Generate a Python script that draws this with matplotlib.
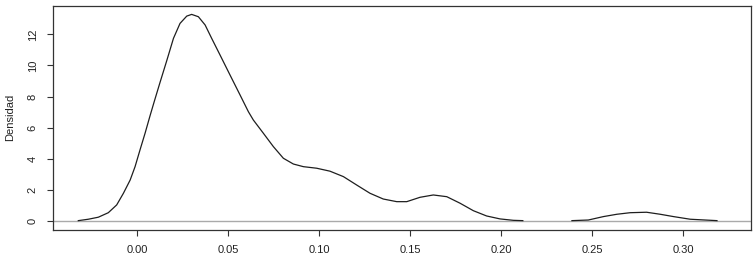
import numpy as np
import matplotlib
matplotlib.use("Agg")
import matplotlib.pyplot as plt

plt.rcParams['font.family'] = ['Liberation Sans', 'DejaVu Sans']

# Density curve, first segment
seg1_x = [-0.0323, -0.0268, -0.0213, -0.0158, -0.0112, -0.0075, -0.0038, -0.0011, 0.0016,
          0.0044, 0.0071, 0.0095, 0.0126, 0.0163, 0.0200, 0.0236, 0.0273, 0.0300, 0.0337,
          0.0374, 0.0410, 0.0456, 0.0511, 0.0566, 0.0612, 0.0639, 0.0694, 0.0749, 0.0804,
          0.0859, 0.0914, 0.0987, 0.1060, 0.1134, 0.1207, 0.1280, 0.1353, 0.1427, 0.1482,
          0.1555, 0.1628, 0.1702, 0.1775, 0.1848, 0.1921, 0.1995, 0.2068, 0.2120]
seg1_y = [0.02, 0.11, 0.24, 0.53, 1.03, 1.78, 2.63, 3.49, 4.56,
          5.64, 6.75, 7.70, 8.90, 10.30, 11.74, 12.70, 13.17, 13.28, 13.13,
          12.60, 11.74, 10.67, 9.38, 8.10, 7.02, 6.49, 5.64, 4.78, 4.03,
          3.66, 3.49, 3.39, 3.20, 2.85, 2.31, 1.78, 1.41, 1.24, 1.24,
          1.52, 1.67, 1.56, 1.14, 0.66, 0.32, 0.13, 0.04, 0.02]

# Second segment
seg2_x = [0.239, 0.248, 0.2563, 0.2637, 0.271, 0.280, 0.2875, 0.2948, 0.304, 0.3187]
seg2_y = [0.02, 0.06, 0.28, 0.43, 0.53, 0.56, 0.43, 0.28, 0.11, 0.02]

x_ticks = [0.00, 0.05, 0.10, 0.15, 0.20, 0.25, 0.30]
x_tick_labels = ["0.00", "0.05", "0.10", "0.15", "0.20", "0.25", "0.30"]
y_ticks = [0, 2, 4, 6, 8, 10, 12]
y_label = "Densidad"

W, H = 753, 258
fig = plt.figure(figsize=(W / 100, H / 100), dpi=100)
L, R, T, B = 53, 751, 6, 229.5
ax = fig.add_axes([L / W, 1 - B / H, (R - L) / W, (B - T) / H])

ax.axhline(0, color='#aaaaaa', lw=1.0, zorder=1)
ax.plot(seg1_x, seg1_y, color='#1e1e1e', lw=0.9, zorder=2)
ax.plot(seg2_x, seg2_y, color='#1e1e1e', lw=0.9, zorder=2)

ax.set_xlim(-0.0462, 0.3374)
ax.set_ylim(-0.55, 13.82)

ax.set_xticks(x_ticks)
ax.set_xticklabels(x_tick_labels)
ax.set_yticks(y_ticks)
ax.set_yticklabels([str(v) for v in y_ticks], rotation=90, va='center')

for s in ax.spines.values():
    s.set_color('#333333')
    s.set_linewidth(0.9)

ax.tick_params(axis='both', direction='out', length=4, width=0.8, color='#333333',
               labelsize=8, labelcolor='#222222')
ax.tick_params(axis='x', pad=7)
ax.tick_params(axis='y', pad=7)

fig.text(10 / W, 1 - ((T + B) / 2) / H, y_label, rotation=90, ha='center', va='center',
         fontsize=8, color='#222222')

fig.savefig("out.png", dpi=100)
